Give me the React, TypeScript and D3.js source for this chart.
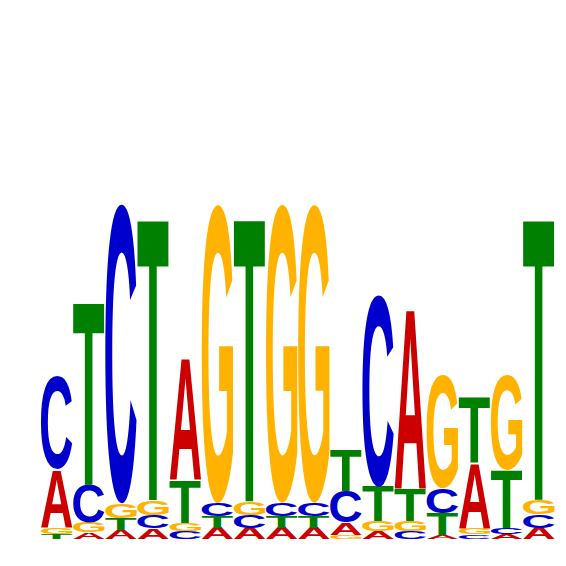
import React, { useMemo } from "react";
import * as d3 from "d3";

const positions = [1, 2, 3, 4, 5, 6, 7, 8, 9, 10, 11, 12, 13, 14, 15, 16];
const bases = ["A", "C", "G", "T"];
// heights in bits per position, order A, C, G, T
const heightA = [0.339, 0.038, 0.053, 0.063, 0.716, 0.065, 0.065, 0.065, 0.065, 0.071, 0.045, 1.061, 0.025, 0.384, 0.026, 0.065];
const heightC = [0.553, 0.222, 1.761, 0.078, 0.045, 0.078, 0.077, 0.078, 0.079, 0.188, 1.129, 0.044, 0.147, 0.026, 0.039, 0.078];
const heightG = [0.038, 0.059, 0.088, 0.088, 0.049, 1.757, 0.080, 1.757, 1.755, 0.026, 0.059, 0.059, 0.667, 0.039, 0.555, 0.088];
const heightT = [0.031, 1.082, 0.069, 1.667, 0.255, 0.068, 1.676, 0.069, 0.069, 0.241, 0.202, 0.194, 0.128, 0.392, 0.341, 1.665];

const colors: Record<string, string> = {
  A: "#CC0000",
  C: "#0000CC",
  G: "#FFB300",
  T: "#008000",
};

const FONT = "bold 100px 'Liberation Sans', Arial, sans-serif";

function measure() {
  const canvas = document.createElement("canvas");
  const ctx = canvas.getContext("2d")!;
  ctx.font = FONT;
  const m: Record<string, { L: number; R: number; A: number; D: number }> = {};
  for (const b of bases) {
    const t = ctx.measureText(b);
    m[b] = {
      L: t.actualBoundingBoxLeft,
      R: t.actualBoundingBoxRight,
      A: t.actualBoundingBoxAscent,
      D: t.actualBoundingBoxDescent,
    };
  }
  return m;
}

export default function App() {
  const metrics = useMemo(() => measure(), []);
  const W = 566;
  const H = 566;
  const x = d3.scaleBand<number>().domain(positions).range([41, 554.6]).paddingInner(0.02);
  const y = d3.scaleLinear().domain([0, 2]).range([539, 199]);
  const table = [heightA, heightC, heightG, heightT];

  const letters: React.ReactNode[] = [];
  positions.forEach((p, i) => {
    const stack = bases
      .map((b, k) => ({ b, v: table[k][i] }))
      .sort((a, c) => a.v - c.v);
    let acc = 0;
    stack.forEach(({ b, v }) => {
      const y0 = y(acc);
      const y1 = y(acc + v);
      acc += v;
      const h = y0 - y1;
      const w = x.bandwidth();
      const mt = metrics[b];
      const sx = w / (mt.L + mt.R);
      const sy = h / (mt.A + mt.D);
      const tx = (x(p) as number) + mt.L * sx;
      const ty = y1 + mt.A * sy;
      letters.push(
        <text
          key={`${p}-${b}`}
          transform={`translate(${tx},${ty}) scale(${sx},${sy})`}
          style={{ font: FONT }}
          fill={colors[b]}
        >
          {b}
        </text>
      );
    });
  });

  return (
    <svg
      width={W}
      height={H}
      style={{ position: "absolute", left: 0, top: 0, background: "#fff" }}
    >
      {letters}
    </svg>
  );
}
